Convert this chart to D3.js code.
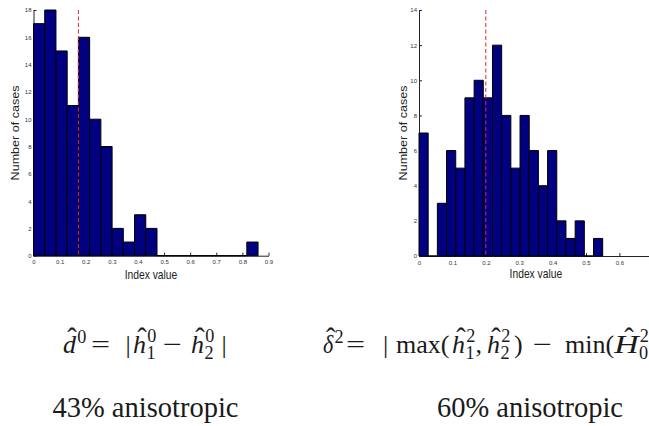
<!DOCTYPE html>
<html>
<head>
<meta charset="utf-8">
<script src="https://cdn.jsdelivr.net/npm/d3@7"></script>
<style>
  html, body { margin: 0; padding: 0; background: #fff; }
  svg { display: block; }
  .tick text { font-family: "Liberation Sans", Arial, sans-serif; fill: #333; }
</style>
</head>
<body>
<svg id="chart" width="649" height="426"></svg>
<script>
// ---------------- DATA ----------------
const leftCounts  = [17, 18, 15, 11, 16, 10, 8, 2, 1, 3, 2, 0, 0, 0, 0, 0, 0, 0, 0, 1];
const leftRange   = [0, 0.86];
const leftMarker  = 0.172;
const leftXTicks  = [0, 0.1, 0.2, 0.3, 0.4, 0.5, 0.6, 0.7, 0.8, 0.9];
const leftYTicks  = [0, 2, 4, 6, 8, 10, 12, 14, 16, 18];

const rightCounts = [7, 0, 3, 6, 5, 9, 10, 9, 12, 8, 5, 8, 6, 4, 6, 2, 1, 2, 0, 1];
const rightRange  = [0, 0.55];
const rightMarker = 0.2;
const rightXTicks = [0, 0.1, 0.2, 0.3, 0.4, 0.5, 0.6, 0.7];
const rightYTicks = [0, 2, 4, 6, 8, 10, 12, 14];

const xTitle = "Index value";
const yTitle = "Number of cases";
const leftCaption  = "43% anisotropic";
const rightCaption = "60% anisotropic";

// ---------------- DRAW ----------------
const svg = d3.select("#chart");
svg.append("rect").attr("width", 649).attr("height", 426).attr("fill", "#fff");

function histogram(cfg) {
  const x = d3.scaleLinear().domain(cfg.xDomain).range(cfg.xRange);
  const y = d3.scaleLinear().domain(cfg.yDomain).range(cfg.yRange);
  const g = svg.append("g");
  const n = cfg.counts.length;
  const w = (cfg.binRange[1] - cfg.binRange[0]) / n;
  const bins = cfg.counts.map((c, i) => ({x0: cfg.binRange[0] + i * w, x1: cfg.binRange[0] + (i + 1) * w, c}));

  // axes
  const ya = d3.axisLeft(y).tickValues(cfg.yTicks).tickSize(-3).tickSizeOuter(0).tickPadding(2)
    .tickFormat(d3.format("d"));
  const xa = d3.axisBottom(x).tickValues(cfg.xTicks).tickSize(-3).tickSizeOuter(0).tickPadding(4.5)
    .tickFormat(d => d === 0 ? "0" : d3.format(".1f")(d));
  const gy = g.append("g").attr("transform", `translate(${cfg.xRange[0]},0)`).call(ya);
  const gx = g.append("g").attr("transform", `translate(0,${cfg.yRange[0]})`).call(xa);
  [gx, gy].forEach(a => {
    a.selectAll(".domain").attr("stroke", "#222").attr("stroke-width", 1);
    a.selectAll(".tick line").attr("stroke", "#222");
    a.selectAll(".tick text").attr("font-size", 6).attr("fill", "#333");
  });

  // bars
  g.append("g").selectAll("path").data(bins).join("path")
    .attr("d", d => {
      const xa0 = x(d.x0), xa1 = x(d.x1), yb = y(0), yt = y(d.c);
      return `M${xa0},${yb}V${yt}H${xa1}V${yb}Z`;
    })
    .attr("fill", "#000080")
    .attr("stroke", "#000")
    .attr("stroke-width", 1);

  // marker
  g.append("line")
    .attr("x1", x(cfg.marker)).attr("x2", x(cfg.marker))
    .attr("y1", cfg.yRange[1]).attr("y2", cfg.yRange[0])
    .attr("stroke", "#e8262a").attr("stroke-width", 1)
    .attr("stroke-dasharray", "4,2.5");

  // titles
  const cx = (cfg.xRange[0] + cfg.xRange[1]) / 2;
  g.append("text")
    .attr("transform", `translate(${cx},${cfg.xTitleY}) scale(1,1.22)`)
    .attr("text-anchor", "middle")
    .attr("font-family", "Liberation Sans, Arial, sans-serif")
    .attr("font-size", 10.3).attr("fill", "#222")
    .text(xTitle);
  g.append("text")
    .attr("transform", `translate(${cfg.yTitleX},${cfg.yTitleY}) scale(1,1.22) rotate(-90)`)
    .attr("text-anchor", "middle")
    .attr("font-family", "Liberation Sans, Arial, sans-serif")
    .attr("font-size", 10.3).attr("fill", "#222")
    .text(yTitle);
}

histogram({
  counts: leftCounts, binRange: leftRange, marker: leftMarker,
  xTicks: leftXTicks, yTicks: leftYTicks,
  xDomain: [0, 0.9], xRange: [33.5, 268.5],
  yDomain: [0, 18], yRange: [255.7, 10],
  xTitleY: 279, yTitleX: 19, yTitleY: 133
});
histogram({
  counts: rightCounts, binRange: rightRange, marker: rightMarker,
  xTicks: rightXTicks, yTicks: rightYTicks,
  xDomain: [0, 0.7], xRange: [419, 652.8],
  yDomain: [0, 14], yRange: [256, 10],
  xTitleY: 277.5, yTitleX: 406.5, yTitleY: 133
});

// ---------------- MATH CAPTIONS ----------------
const FS = 26;
const serif = "Liberation Serif, Times New Roman, serif";
function measure(t, size, italic) {
  const tmp = svg.append("text").attr("font-family", serif).attr("font-size", size)
    .attr("font-style", italic ? "italic" : "normal").text(t);
  const w = tmp.node().getComputedTextLength();
  tmp.remove();
  return w;
}
function mathLine(x0, base, items, size) {
  const g = svg.append("g").attr("fill", "#1a1a1a");
  let x = x0;
  items.forEach(it => {
    if (it.sp !== undefined) { x += it.sp * size; return; }
    if (it.at !== undefined) x = it.at;
    const sx = it.sx || 1;
    const w = measure(it.t, size, it.i) * sx;
    g.append("text")
      .attr("transform", `translate(${x},${base}) scale(${sx},1)`)
      .attr("font-family", serif).attr("font-size", size)
      .attr("font-style", it.i ? "italic" : "normal").text(it.t);
    if (it.hat) {
      g.append("text").attr("x", x + w / 2 + (it.i ? 0.1 * size : 0)).attr("y", base - 0.2 * size)
        .attr("text-anchor", "middle")
        .attr("font-family", serif).attr("font-size", size * 1.1).text("\u02C6");
    }
    let adv = w;
    const s = size * 0.7;
    if (it.sup) {
      const ws = measure(it.sup, s, false);
      g.append("text").attr("x", x + w + 0.05 * size).attr("y", base - (it.sub ? 0.42 : 0.4) * size)
        .attr("font-family", serif).attr("font-size", s).text(it.sup);
      adv = Math.max(adv, w + 0.05 * size + ws);
    }
    if (it.sub) {
      const wb = measure(it.sub, s, false);
      g.append("text").attr("x", x + w + 0.02 * size).attr("y", base + 0.22 * size)
        .attr("font-family", serif).attr("font-size", s).text(it.sub);
      adv = Math.max(adv, w + 0.02 * size + wb);
    }
    x = adv + x + (it.after || 0);
  });
  return x;
}

mathLine(63, 353, [
  {t: "d", i: true, hat: true, sup: "0"},
  {t: "=", at: 91, sx: 1.3},
  {t: "|", at: 125.5},
  {t: "h", i: true, hat: true, sup: "0", sub: "1", at: 133},
  {t: "\u2212", at: 163, sx: 1.3},
  {t: "h", i: true, hat: true, sup: "0", sub: "2", at: 191},
  {t: "|", at: 221.5}
], FS);

mathLine(323, 353, [
  {t: "\u03B4", i: true, hat: true, sup: "2", sx: 0.85},
  {t: "=", at: 346, sx: 1.3},
  {t: "|", at: 383},
  {t: "max", at: 396}, {t: "("},
  {t: "h", i: true, hat: true, sup: "2", sub: "1", at: 452},
  {t: ","},
  {t: "h", i: true, hat: true, sup: "2", sub: "2", at: 487},
  {t: ")", at: 514},
  {t: "\u2212", at: 533, sx: 1.3},
  {t: "min", at: 565}, {t: "("},
  {t: "H", i: true, hat: true, sup: "2", sub: "0", sx: 1.3},
  {t: ","}, {sp: 0.17},
  {t: "H", i: true, hat: true, sup: "2", sub: "0", sx: 1.3},
  {t: ")"}, {t: "|"}
], FS);

svg.append("text").attr("x", 145.5).attr("y", 416.5).attr("text-anchor", "middle")
  .attr("font-family", serif).attr("font-size", 28.5).attr("fill", "#1a1a1a").text(leftCaption);
svg.append("text").attr("x", 530).attr("y", 416.5).attr("text-anchor", "middle")
  .attr("font-family", serif).attr("font-size", 28.5).attr("fill", "#1a1a1a").text(rightCaption);
</script>
</body>
</html>
